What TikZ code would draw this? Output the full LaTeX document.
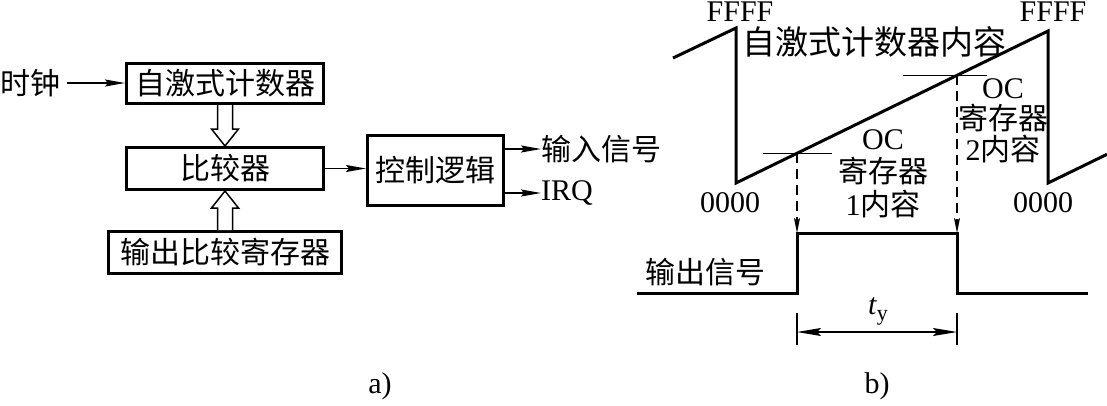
\documentclass[tikz,border=0pt]{standalone}
\usepackage{fontspec}
\setmainfont{Liberation Serif}
\newfontfamily\cjk{Noto Sans CJK SC}
\usetikzlibrary{arrows.meta,calc}
\begin{document}
\begin{tikzpicture}[x=1pt,y=-1pt,
  every node/.style={font=\fontsize{30}{33}\selectfont, inner sep=0pt},
  blk/.style={draw, line width=3pt, inner sep=0pt},
  thinarr/.style={line width=1.5pt, -{Stealth[length=20pt,width=7pt,inset=3pt]}},
  hollow/.style={line width=1.5pt, fill=white, line join=miter},
  saw/.style={line width=3pt, line join=miter},
  dasharr/.style={line width=1.2pt, dash pattern=on 10pt off 6pt, -{Stealth[length=15pt,width=6pt,inset=3pt]}},
  dimarr/.style={line width=1.2pt, {Stealth[length=24pt,width=8pt,inset=4pt]}-{Stealth[length=24pt,width=8pt,inset=4pt]}}]
\useasboundingbox (0,0) rectangle (1107,405);

% ---------- a) ----------
\node (clk) at (30,83) {\cjk 时钟};
\node[blk, minimum width=197pt, minimum height=40pt] (cnt) at (225,83.5) {\cjk 自激式计数器};
\node[blk, minimum width=197pt, minimum height=42pt] (cmp) at (225,168.5) {\cjk 比较器};
\node[blk, minimum width=233pt, minimum height=42pt] (ocr) at (225,252.5) {\cjk 输出比较寄存器};
\node[blk, minimum width=136pt, minimum height=70pt] (ctl) at (435.5,170.5) {\cjk 控制逻辑};
\node[anchor=west] (in1) at (541,149) {\cjk 输入信号};
\node[anchor=west] (irq) at (541,193) {IRQ};

\draw[thinarr] ($(clk.east)+(7,0)$) -- (clk.east -| cnt.west);
\draw[thinarr] (cmp.east) -- (cmp.east -| ctl.west);
\draw[thinarr] (ctl.east |- in1) -- (in1.west);
\draw[thinarr] (ctl.east |- irq) -- (irq.west);

\draw[hollow] ($(cnt.south)+(-7.5,0)$) |- ($(cmp.north)+(-13.5,-17)$) -- (cmp.north)
   -- ($(cmp.north)+(13.5,-17)$) -| ($(cnt.south)+(7.5,0)$);
\draw[hollow] ($(ocr.north)+(-7.5,0)$) |- ($(cmp.south)+(-13.5,17)$) -- (cmp.south)
   -- ($(cmp.south)+(13.5,17)$) -| ($(ocr.north)+(7.5,0)$);

\node (la) at (380,386) {a)};

% ---------- b) ----------
\coordinate (s0) at (673,58);
\coordinate (f1) at (736,28);
\coordinate (z1) at (736,183);
\coordinate (f2) at (1048,31);
\coordinate (z2) at (1048,183);
\coordinate (s1) at (1107,154.3);
\draw[saw] (s0) -- (f1) -- (z1) -- (f2) -- (z2) -- (s1);

\coordinate (p1) at (797,153.3);
\coordinate (p2) at (957,75.3);
\draw[line width=1.3pt] ($(p1)+(-34,0)$) -- ($(p1)+(35,0)$);
\draw[line width=1.3pt] ($(p2)+(-54,0)$) -- ($(p2)+(30,0)$);

\coordinate (q0) at (637,293);
\coordinate (r1) at (797,293);
\coordinate (r2) at (797,233);
\coordinate (r3) at (957,233);
\coordinate (r4) at (957,293);
\coordinate (q1) at (1088,293);
\draw[saw] (q0) -- (r1) -- (r2) -- (r3) -- (r4) -- (q1);

\draw[dasharr] (p1) -- (r2);
\draw[dasharr] (p2) -- (r3);

\coordinate (t1) at (797,313);
\coordinate (t2) at (957,313);
\draw[line width=1.2pt] (t1) -- ++(0,32);
\draw[line width=1.2pt] (t2) -- ++(0,32);
\draw[dimarr] ($(t1)+(0,19)$) -- ($(t2)+(0,19)$);
\node (ty) at (878,311) {\itshape t\/\raisebox{-6pt}{\upshape\fontsize{22}{22}\selectfont y}};

\node (ff1) at (740,12) {FFFF};
\node (ff2) at (1053,12) {FFFF};
\node (zz1) at (730,203) {0000};
\node (zz2) at (1043,203) {0000};
\node[font=\fontsize{33}{36}\selectfont] (ttl) at (874,42) {\cjk 自激式计数器内容};
\node[align=center, font=\fontsize{30}{33}\selectfont] (oc1) at (883,174) {OC\\{\cjk 寄存器}\\1{\cjk 内容}};
\node[align=center, font=\fontsize{30}{31}\selectfont] (oc2) at (1003,121) {OC\\{\cjk 寄存器}\\2{\cjk 内容}};
\node (out) at (705,272) {\cjk 输出信号};
\node (lb) at (877,386) {b)};
\end{tikzpicture}
\end{document}
